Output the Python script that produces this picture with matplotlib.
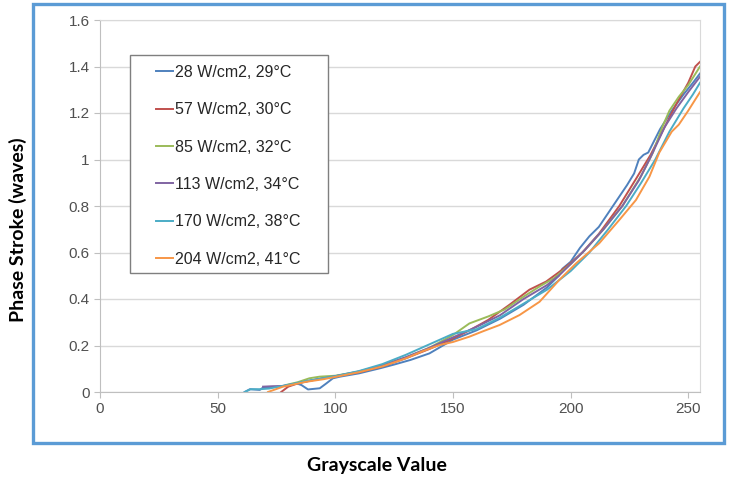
import matplotlib
matplotlib.use('Agg')
import matplotlib.pyplot as plt
from matplotlib.patches import Rectangle

# grayscale value vs. phase stroke, one curve per power/temperature
labels = ['28 W/cm2, 29°C', '57 W/cm2, 30°C', '85 W/cm2, 32°C',
          '113 W/cm2, 34°C', '170 W/cm2, 38°C', '204 W/cm2, 41°C']
colors = ['#4F81BD', '#C0504D', '#9BBB59', '#8064A2', '#4BACC6', '#F79646']

x_28 = [61.5, 63.7, 67.9, 69.3, 75, 80, 83.5, 85.6, 88.4, 93.4, 96.2, 99, 102, 110,
        119, 125, 132, 140, 150, 160, 170, 180, 190, 195, 196.5, 200, 204, 208, 212,
        218, 224, 227, 229, 231, 233, 238, 243, 248, 252, 255]
y_28 = [0, 0.012, 0.009, 0.019, 0.022, 0.03, 0.037, 0.03, 0.011, 0.016, 0.037, 0.059,
        0.066, 0.08, 0.102, 0.118, 0.138, 0.166, 0.225, 0.265, 0.315, 0.375, 0.45, 0.5,
        0.53, 0.56, 0.62, 0.67, 0.71, 0.8, 0.89, 0.94, 1.0, 1.02, 1.03, 1.13, 1.21,
        1.28, 1.33, 1.37]

x_57 = [77, 80, 85, 90, 95, 100, 110, 120, 130, 140, 150, 157, 165, 174, 182.5, 189.6,
        195, 200, 205, 212, 220.7, 228, 234, 240, 245, 250, 253, 255]
y_57 = [0, 0.023, 0.04, 0.05, 0.06, 0.068, 0.085, 0.11, 0.145, 0.185, 0.23, 0.265,
        0.31, 0.375, 0.44, 0.475, 0.515, 0.555, 0.6, 0.68, 0.8, 0.92, 1.02, 1.14, 1.24,
        1.33, 1.4, 1.42]

x_85 = [79, 84, 89, 93.4, 100, 110, 120, 130, 140, 150, 157, 165, 172, 180, 187, 193,
        200, 206, 214, 222, 230, 235, 239, 242, 246, 250, 255]
y_85 = [0.03, 0.042, 0.059, 0.066, 0.07, 0.088, 0.115, 0.148, 0.19, 0.245, 0.295, 0.325,
        0.355, 0.41, 0.455, 0.49, 0.55, 0.61, 0.7, 0.8, 0.93, 1.03, 1.14, 1.21, 1.27,
        1.32, 1.40]

x_113 = [69.3, 73.6, 78, 83, 90, 100, 110, 120, 130, 140, 150, 160, 170, 180, 190, 195,
         200, 206, 214, 222, 229, 234, 240, 245, 250, 255]
y_113 = [0.023, 0.025, 0.026, 0.035, 0.05, 0.068, 0.088, 0.115, 0.15, 0.19, 0.235, 0.28,
         0.33, 0.4, 0.46, 0.5, 0.55, 0.61, 0.7, 0.8, 0.91, 1.01, 1.14, 1.22, 1.29, 1.356]

x_170 = [61.5, 64, 68, 72, 77, 82, 88, 94, 100, 110, 120, 130, 140, 150, 160, 170, 180,
         190, 200, 208, 216, 223.6, 230, 236, 242, 248, 252, 255]
y_170 = [0, 0.012, 0.012, 0.015, 0.025, 0.035, 0.048, 0.058, 0.068, 0.09, 0.12, 0.16,
         0.205, 0.25, 0.27, 0.32, 0.38, 0.44, 0.52, 0.6, 0.7, 0.8, 0.9, 1.0, 1.12, 1.22,
         1.28, 1.33]

x_204 = [71.4, 77.8, 87.7, 95, 100, 110, 120, 130, 137, 144.3, 150, 157, 163, 169.8,
         178.3, 186.8, 195.2, 202.3, 212.2, 220.7, 227.8, 233.5, 237.7, 243, 246, 250, 255]
y_204 = [0, 0.023, 0.044, 0.055, 0.065, 0.085, 0.11, 0.145, 0.175, 0.202, 0.215, 0.238,
         0.262, 0.288, 0.331, 0.388, 0.482, 0.553, 0.64, 0.74, 0.826, 0.926, 1.03, 1.12,
         1.15, 1.21, 1.29]

xs = [x_28, x_57, x_85, x_113, x_170, x_204]
ys = [y_28, y_57, y_85, y_113, y_170, y_204]

W, H = 734, 479
fig = plt.figure(figsize=(W / 100, H / 100), dpi=100)
ax = fig.add_axes([100 / W, 1 - 392 / H, 600 / W, 372 / H])

for x, y, c, lab in zip(xs, ys, colors, labels):
    ax.plot(x, y, color=c, lw=1.4, label=lab, solid_joinstyle='round')

ax.set_xlim(0, 255)
ax.set_ylim(0, 1.6)
ax.set_xticks([0, 50, 100, 150, 200, 250])
ax.set_yticks([0, 0.2, 0.4, 0.6, 0.8, 1, 1.2, 1.4, 1.6])
ax.set_yticklabels(['0', '0.2', '0.4', '0.6', '0.8', '1', '1.2', '1.4', '1.6'])
ax.yaxis.grid(True, color='#d9d9d9', lw=1.0)
ax.set_axisbelow(True)
for s in ['top', 'right']:
    ax.spines[s].set_color('#d9d9d9')
for s in ['left', 'bottom']:
    ax.spines[s].set_color('#bfbfbf')
ax.tick_params(colors='#bfbfbf', length=4, labelcolor='#505050', labelsize=11)
for t in ax.get_xticklabels() + ax.get_yticklabels():
    t.set_family('Liberation Sans')

# legend: box drawn separately so the padding can be uneven like the original
box = Rectangle((130 / W, 1 - 273 / H), 198 / W, 218 / H, transform=fig.transFigure,
                facecolor='white', edgecolor='#7f7f7f', lw=1.0, zorder=4, clip_on=False)
ax.add_patch(box)
leg = ax.legend(loc='upper left', bbox_to_anchor=(156 / W, 1 - 65 / H),
                bbox_transform=fig.transFigure, frameon=False, borderpad=0,
                borderaxespad=0, handlelength=1.05, handletextpad=0.12,
                labelspacing=1.4, prop={'family': 'Liberation Sans', 'size': 11.5})
leg.set_zorder(5)
for t in leg.get_texts():
    t.set_color('#262626')

fig.text(18 / W, 1 - 230 / H, 'Phase Stroke (waves)', rotation=90, ha='center',
         va='center', fontsize=14, fontweight='bold', family='Lato')
fig.text(377 / W, 1 - 466 / H, 'Grayscale Value', ha='center', va='center',
         fontsize=14, fontweight='bold', family='Lato')

# blue outer frame
fig.patches.append(Rectangle((33 / W, 1 - 443 / H), 691 / W, 439 / H,
                             transform=fig.transFigure, fill=False,
                             edgecolor='#5B9BD5', lw=2.4))

fig.savefig('out.png', dpi=100)
